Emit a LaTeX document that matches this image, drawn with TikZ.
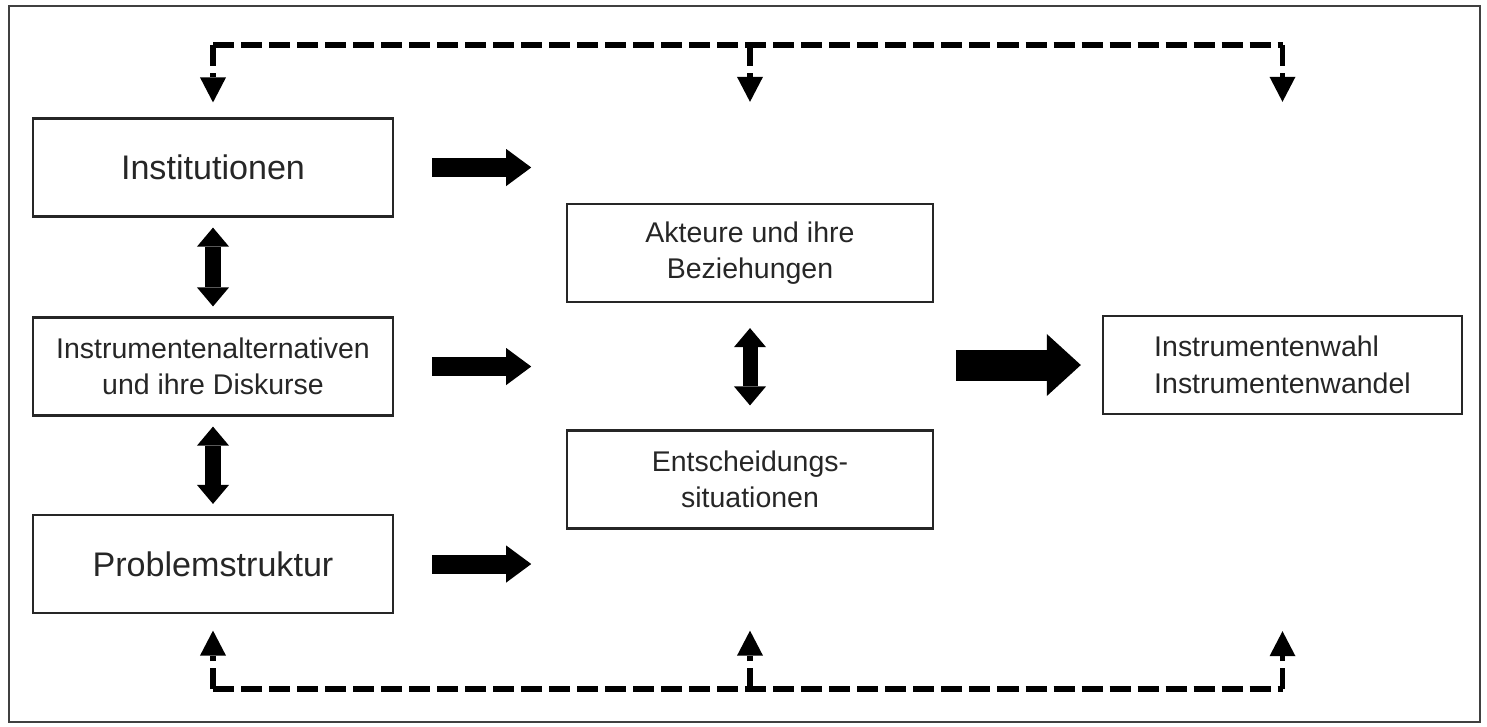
\documentclass[tikz,border=0pt]{standalone}
\usepackage{fontspec}
\setmainfont{Liberation Sans}
\usetikzlibrary{arrows.meta}

\begin{document}
\begin{tikzpicture}[x=0.01cm,y=-0.01cm,>=latex,
  box/.style={draw=black!85,line width=0.6pt,inner sep=0pt,align=center,
    text=black!85,minimum width=3.6cm,minimum height=0.98cm},
  bigbox/.style={box,font=\fontsize{9.7}{11}\selectfont},
  smallbox/.style={box,font=\fontsize{8.1}{10.4}\selectfont},
  dashlink/.style={line width=0.055cm,dash pattern=on 0.21cm off 0.07cm},
  dashtip/.style={-{Triangle[width=0.26cm,length=0.25cm,line width=0pt]}},
  blockarrow/.style={line width=0.19cm,-{Triangle[width=0.37cm,length=0.25cm,line width=0pt]}},
  bigarrow/.style={line width=0.31cm,-{Triangle[width=0.62cm,length=0.34cm,line width=0pt]}},
  dblarrow/.style={line width=0.15cm,
    {Triangle[width=0.32cm,length=0.19cm,line width=0pt]}-{Triangle[width=0.32cm,length=0.19cm,line width=0pt]}}]
  \useasboundingbox (0,0) rectangle (1487,726);
  % frame
  \draw[black!75,line width=0.5pt] (9,6) rectangle (1480,722);

  % left column
  \node[bigbox] (inst) at (213,167.5) {Institutionen};
  \node[smallbox] (alt) at (213,366.5) {Instrumentenalternativen\\und ihre Diskurse};
  \node[bigbox] (prob) at (213,564) {Problemstruktur};
  % middle column
  \node[smallbox,minimum width=3.66cm] (akt) at (750,253) {Akteure und ihre\\Beziehungen};
  \node[smallbox,minimum width=3.66cm] (ent) at (750,479.5) {Entscheidungs-\\situationen};
  % result
  \node[smallbox,align=left,minimum width=3.59cm] (wahl) at (1282.5,365) {Instrumentenwahl\\Instrumentenwandel};

  % feedback lines
  \coordinate (tl) at (213,45);
  \coordinate (tm) at (750,45);
  \coordinate (tr) at (1282.5,45);
  \coordinate (bl) at (213,689);
  \coordinate (bm) at (750,689);
  \coordinate (br) at (1282.5,689);
  \draw[dashlink] (tl) -- (tr);
  \draw[dashlink] (bl) -- (br);
  \draw[dashlink,dashtip] (tl) -- ([yshift=0.15cm]inst.north);
  \draw[dashlink,dashtip] (tm) -- ([yshift=1.01cm]akt.north);
  \draw[dashlink,dashtip] (tr) -- ([yshift=2.13cm]wahl.north);
  \draw[dashlink,dashtip] (bl) -- ([yshift=-0.165cm]prob.south);
  \draw[dashlink,dashtip] (bm) -- ([yshift=-1.01cm]ent.south);
  \draw[dashlink,dashtip] (br) -- ([yshift=-2.16cm]wahl.south);

  % arrows
  \foreach \n in {inst,alt,prob}
    \draw[blockarrow] ([xshift=0.38cm]\n.east) -- ([xshift=1.37cm]\n.east);
  \draw[bigarrow] ([xshift=-1.46cm]wahl.west) -- ([xshift=-0.21cm]wahl.west);
  \draw[dblarrow] ([yshift=-0.1cm]inst.south) -- ([yshift=0.1cm]alt.north);
  \draw[dblarrow] ([yshift=-0.1cm]alt.south) -- ([yshift=0.1cm]prob.north);
  \draw[dblarrow] ([yshift=-0.25cm]akt.south) -- ([yshift=0.24cm]ent.north);
\end{tikzpicture}
\end{document}
